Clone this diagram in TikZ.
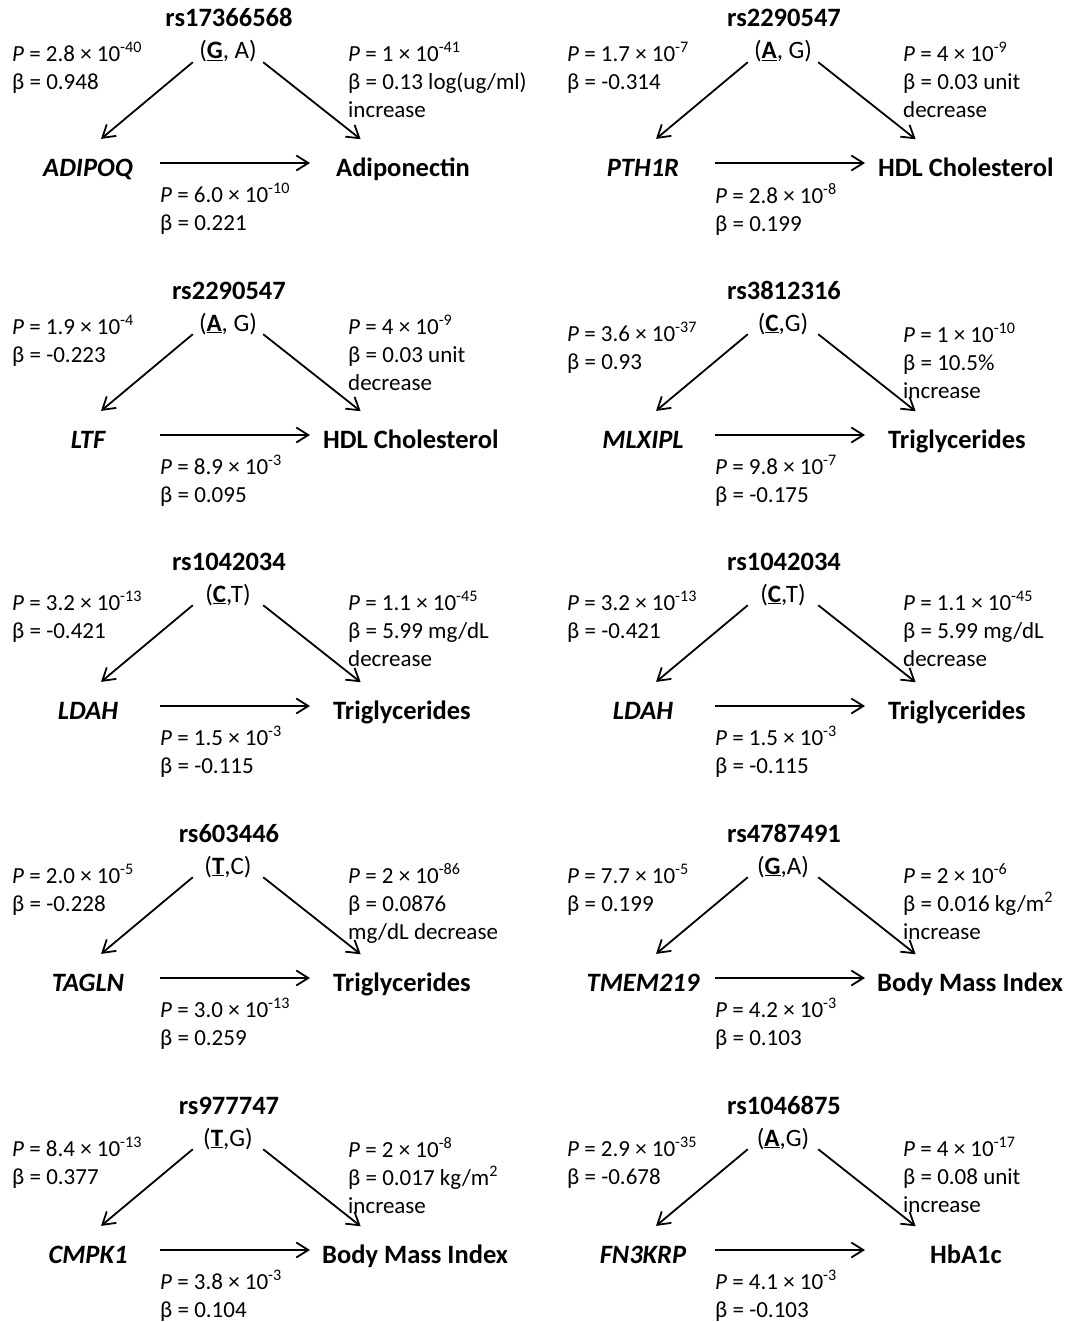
\documentclass[tikz,border=0pt]{standalone}
\usepackage{fontspec}
\setmainfont{Carlito}
\usetikzlibrary{arrows.meta}
\newcommand{\pval}[2]{\textit{P} = #1 × 10\textsuperscript{#2}}
\newcommand{\minor}[1]{\underline{\textbf{#1}}}

\begin{document}
\begin{tikzpicture}[x=1pt,y=-1pt,
    snp/.style={font=\fontsize{26.5}{30}\selectfont\bfseries,inner sep=0pt,anchor=base},
    allele/.style={font=\fontsize{25}{30}\selectfont,inner sep=0pt,minimum width=70pt,text depth=3pt,anchor=base},
    gene/.style={font=\fontsize{26.5}{30}\selectfont\bfseries\itshape,inner sep=0pt,minimum width=144pt,text height=26pt,text depth=0pt,anchor=base},
    trait/.style={font=\fontsize{26.5}{30}\selectfont\bfseries,inner ysep=0pt,text height=26pt,text depth=0pt,anchor=base west},
    stat/.style={font=\fontsize{23}{28}\selectfont,inner sep=0pt,align=left,anchor=north west},
    arr/.style={line width=1.8pt,-{Straight Barb[length=12pt,width=15pt]}},
    diag/.style={arr,shorten >=17pt}]

  \useasboundingbox (0,0) rectangle (1070,1322);

  % row 1
  \begin{scope}
    \node[snp] (s1) at (229,27) {rs17366568};
    \node[allele] (a1) at (228,59) {(\minor{G}, A)};
    \node[gene] (g1) at (88,176) {ADIPOQ};
    \node[trait,inner xsep=26pt] (t1) at (310,176) {Adiponectin};
    \node[stat] (l1) at (12,42) {\pval{2.8}{-40}\\β = 0.948};
    \node[stat] (r1) at (348,42) {\pval{1}{-41}\\β = 0.13 log(ug/ml)\\increase};
    \node[stat] (b1) at (160,183) {\pval{6.0}{-10}\\β = 0.221};
    \draw[diag] (a1.south west) -- (g1.north);
    \draw[diag] (a1.south east) -- ([xshift=64pt]t1.north west);
    \draw[arr] (g1.east) -- (t1.west);
  \end{scope}
  \begin{scope}[shift={(555,0)}]
    \node[snp] (s2) at (229,27) {rs2290547};
    \node[allele] (a2) at (228,59) {(\minor{A}, G)};
    \node[gene] (g2) at (88,176) {PTH1R};
    \node[trait,inner xsep=13pt] (t2) at (310,176) {HDL Cholesterol};
    \node[stat] (l2) at (12,42) {\pval{1.7}{-7}\\β = -0.314};
    \node[stat] (r2) at (348,42) {\pval{4}{-9}\\β = 0.03 unit\\decrease};
    \node[stat] (b2) at (160,183) {\pval{2.8}{-8}\\β = 0.199};
    \draw[diag] (a2.south west) -- (g2.north);
    \draw[diag] (a2.south east) -- ([xshift=64pt]t2.north west);
    \draw[arr] (g2.east) -- (t2.west);
  \end{scope}

  % row 2
  \begin{scope}[shift={(0,272)}]
    \node[snp] (s3) at (229,27) {rs2290547};
    \node[allele] (a3) at (228,59) {(\minor{A}, G)};
    \node[gene] (g3) at (88,176) {LTF};
    \node[trait,inner xsep=13pt] (t3) at (310,176) {HDL Cholesterol};
    \node[stat] (l3) at (12,43) {\pval{1.9}{-4}\\β = -0.223};
    \node[stat] (r3) at (348,43) {\pval{4}{-9}\\β = 0.03 unit\\decrease};
    \node[stat] (b3) at (160,183) {\pval{8.9}{-3}\\β = 0.095};
    \draw[diag] (a3.south west) -- (g3.north);
    \draw[diag] (a3.south east) -- ([xshift=64pt]t3.north west);
    \draw[arr] (g3.east) -- (t3.west);
  \end{scope}
  \begin{scope}[shift={(555,272)}]
    \node[snp] (s4) at (229,27) {rs3812316};
    \node[allele] (a4) at (228,59) {(\minor{C},G)};
    \node[gene] (g4) at (88,176) {MLXIPL};
    \node[trait,inner xsep=23pt] (t4) at (310,176) {Triglycerides};
    \node[stat] (l4) at (12,50) {\pval{3.6}{-37}\\β = 0.93};
    \node[stat] (r4) at (348,51) {\pval{1}{-10}\\β = 10.5\%\\increase};
    \node[stat] (b4) at (160,183) {\pval{9.8}{-7}\\β = -0.175};
    \draw[diag] (a4.south west) -- (g4.north);
    \draw[diag] (a4.south east) -- ([xshift=64pt]t4.north west);
    \draw[arr] (g4.east) -- (t4.west);
  \end{scope}

  % row 3
  \begin{scope}[shift={(0,543)}]
    \node[snp] (s5) at (229,27) {rs1042034};
    \node[allele] (a5) at (228,59) {(\minor{C},T)};
    \node[gene] (g5) at (88,176) {LDAH};
    \node[trait,inner xsep=23pt] (t5) at (310,176) {Triglycerides};
    \node[stat] (l5) at (12,48) {\pval{3.2}{-13}\\β = -0.421};
    \node[stat] (r5) at (348,48) {\pval{1.1}{-45}\\β = 5.99 mg/dL\\decrease};
    \node[stat] (b5) at (160,183) {\pval{1.5}{-3}\\β = -0.115};
    \draw[diag] (a5.south west) -- (g5.north);
    \draw[diag] (a5.south east) -- ([xshift=64pt]t5.north west);
    \draw[arr] (g5.east) -- (t5.west);
  \end{scope}
  \begin{scope}[shift={(555,543)}]
    \node[snp] (s6) at (229,27) {rs1042034};
    \node[allele] (a6) at (228,59) {(\minor{C},T)};
    \node[gene] (g6) at (88,176) {LDAH};
    \node[trait,inner xsep=23pt] (t6) at (310,176) {Triglycerides};
    \node[stat] (l6) at (12,48) {\pval{3.2}{-13}\\β = -0.421};
    \node[stat] (r6) at (348,48) {\pval{1.1}{-45}\\β = 5.99 mg/dL\\decrease};
    \node[stat] (b6) at (160,183) {\pval{1.5}{-3}\\β = -0.115};
    \draw[diag] (a6.south west) -- (g6.north);
    \draw[diag] (a6.south east) -- ([xshift=64pt]t6.north west);
    \draw[arr] (g6.east) -- (t6.west);
  \end{scope}

  % row 4
  \begin{scope}[shift={(0,815)}]
    \node[snp] (s7) at (229,27) {rs603446};
    \node[allele] (a7) at (228,59) {(\minor{T},C)};
    \node[gene] (g7) at (88,176) {TAGLN};
    \node[trait,inner xsep=23pt] (t7) at (310,176) {Triglycerides};
    \node[stat] (l7) at (12,49) {\pval{2.0}{-5}\\β = -0.228};
    \node[stat] (r7) at (348,48) {\pval{2}{-86}\\β = 0.0876\\mg/dL decrease};
    \node[stat] (b7) at (160,183) {\pval{3.0}{-13}\\β = 0.259};
    \draw[diag] (a7.south west) -- (g7.north);
    \draw[diag] (a7.south east) -- ([xshift=64pt]t7.north west);
    \draw[arr] (g7.east) -- (t7.west);
  \end{scope}
  \begin{scope}[shift={(555,815)}]
    \node[snp] (s8) at (229,27) {rs4787491};
    \node[allele] (a8) at (228,59) {(\minor{G},A)};
    \node[gene] (g8) at (88,176) {TMEM219};
    \node[trait,inner xsep=12pt] (t8) at (310,176) {Body Mass Index};
    \node[stat] (l8) at (12,49) {\pval{7.7}{-5}\\β = 0.199};
    \node[stat] (r8) at (348,48) {\pval{2}{-6}\\β = 0.016 kg/m\textsuperscript{2}\\increase};
    \node[stat] (b8) at (160,183) {\pval{4.2}{-3}\\β = 0.103};
    \draw[diag] (a8.south west) -- (g8.north);
    \draw[diag] (a8.south east) -- ([xshift=64pt]t8.north west);
    \draw[arr] (g8.east) -- (t8.west);
  \end{scope}

  % row 5
  \begin{scope}[shift={(0,1087)}]
    \node[snp] (s9) at (229,27) {rs977747};
    \node[allele] (a9) at (228,59) {(\minor{T},G)};
    \node[gene] (g9) at (88,176) {CMPK1};
    \node[trait,inner xsep=12pt] (t9) at (310,176) {Body Mass Index};
    \node[stat] (l9) at (12,50) {\pval{8.4}{-13}\\β = 0.377};
    \node[stat] (r9) at (348,50) {\pval{2}{-8}\\β = 0.017 kg/m\textsuperscript{2}\\increase};
    \node[stat] (b9) at (160,183) {\pval{3.8}{-3}\\β = 0.104};
    \draw[diag] (a9.south west) -- (g9.north);
    \draw[diag] (a9.south east) -- ([xshift=64pt]t9.north west);
    \draw[arr] (g9.east) -- (t9.west);
  \end{scope}
  \begin{scope}[shift={(555,1087)}]
    \node[snp] (s10) at (229,27) {rs1046875};
    \node[allele] (a10) at (228,59) {(\minor{A},G)};
    \node[gene] (g10) at (88,176) {FN3KRP};
    \node[trait,inner xsep=65pt] (t10) at (310,176) {HbA1c};
    \node[stat] (l10) at (12,50) {\pval{2.9}{-35}\\β = -0.678};
    \node[stat] (r10) at (348,50) {\pval{4}{-17}\\β = 0.08 unit\\increase};
    \node[stat] (b10) at (160,183) {\pval{4.1}{-3}\\β = -0.103};
    \draw[diag] (a10.south west) -- (g10.north);
    \draw[diag] (a10.south east) -- ([xshift=64pt]t10.north west);
    \draw[arr] (g10.east) -- (t10.west);
  \end{scope}

\end{tikzpicture}
\end{document}
